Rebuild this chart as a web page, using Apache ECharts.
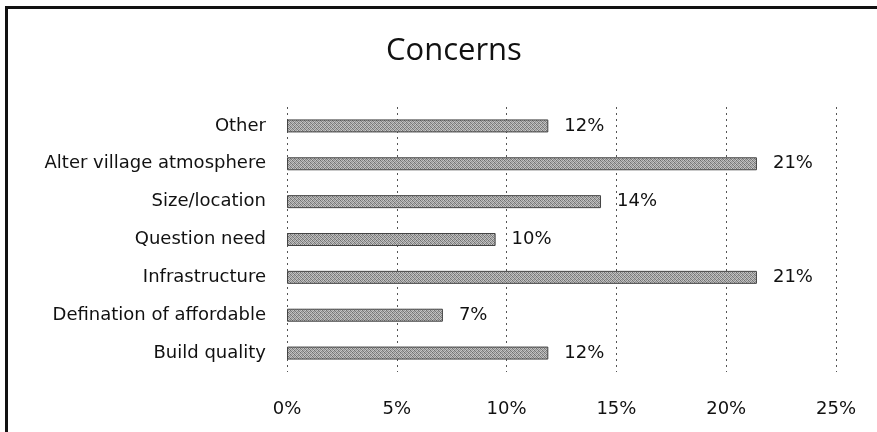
<!DOCTYPE html>
<html>
<head>
<meta charset="utf-8">
<script src="https://cdn.jsdelivr.net/npm/echarts@6/dist/echarts.min.js"></script>
<style>
  html, body { margin: 0; padding: 0; background: #fff; overflow: hidden; }
  #frame { position: absolute; left: 5px; top: 6px; width: 900px; height: 460px; border-top: 3px solid #111; border-left: 3px solid #111; }
  #chart { position: absolute; left: 0; top: 0; width: 877px; height: 432px; }
</style>
</head>
<body>
<div id="frame"></div>
<div id="chart"></div>
<script>
// Survey concerns, share of responses (percent)
const categories = [
  'Build quality',
  'Defination of affordable',
  'Infrastructure',
  'Question need',
  'Size/location',
  'Alter village atmosphere',
  'Other'
];
const shares = [11.9, 7.1, 21.4, 9.5, 14.3, 21.4, 11.9];
const axisTicks = [0, 5, 10, 15, 20, 25];

// Speckled grey fill for the bars
function makeSpeckle() {
  const c = document.createElement('canvas');
  c.width = 4; c.height = 4;
  const ctx = c.getContext('2d');
  const tones = ['#6e6e6e', '#bdbdbd', '#8e8e8e', '#c8c8c8',
                 '#b2b2b2', '#7c7c7c', '#c2c2c2', '#929292',
                 '#999999', '#cacaca', '#727272', '#b6b6b6',
                 '#c6c6c6', '#888888', '#acacac', '#7a7a7a'];
  for (let i = 0; i < 16; i++) {
    ctx.fillStyle = tones[i];
    ctx.fillRect(i % 4, Math.floor(i / 4), 1, 1);
  }
  return c;
}

const chart = echarts.init(document.getElementById('chart'), null, { renderer: 'canvas' });
const titleFont = '"Open Sans", "Noto Sans", sans-serif';
const font = '"DejaVu Sans", "Open Sans", sans-serif';

chart.setOption({
  animation: false,
  title: {
    text: 'Concerns',
    left: 381,
    top: 31,
    textStyle: { fontFamily: titleFont, fontSize: 31, fontWeight: 'normal', color: '#111' }
  },
  grid: { left: 287, right: 41, top: 107, bottom: 60 },
  xAxis: {
    type: 'value',
    min: axisTicks[0],
    max: axisTicks[axisTicks.length - 1],
    interval: 5,
    axisLine: { show: false },
    axisTick: { show: false },
    axisLabel: {
      formatter: v => v + '%',
      fontFamily: font, fontSize: 18, color: '#111', margin: 28
    },
    splitLine: { show: true, lineStyle: { color: '#555', type: [2, 4], width: 1 } }
  },
  yAxis: {
    type: 'category',
    data: categories,
    axisLine: { show: false },
    axisTick: { show: false },
    axisLabel: { fontFamily: font, fontSize: 18, color: '#111', margin: 21 }
  },
  series: [{
    type: 'bar',
    data: shares,
    barWidth: 13,
    itemStyle: {
      color: { image: makeSpeckle(), repeat: 'repeat' },
      borderColor: '#444',
      borderWidth: 1
    },
    label: {
      show: true,
      position: 'right',
      distance: 16,
      formatter: p => Math.round(p.value) + '%',
      fontFamily: font, fontSize: 18, color: '#111'
    }
  }]
});
</script>
</body>
</html>
